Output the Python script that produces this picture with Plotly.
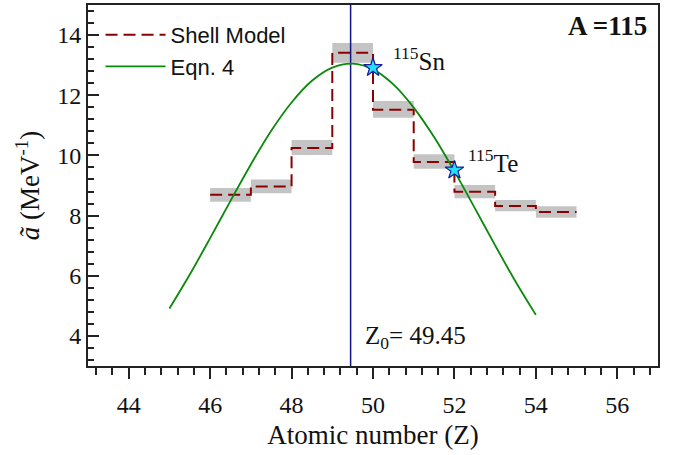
import plotly.graph_objects as go

# Shell model step values (level density parameter per Z bin)
shell_z = [46, 47, 48, 49, 50, 51, 52, 53, 54, 55]
shell_val = [8.69, 8.97, 10.25, 13.41, 11.52, 9.78, 8.79, 8.32, 8.12, 8.12]
# Grey uncertainty bands (center, half-width) per bin [Z, Z+1]
band_z = [46.5, 47.5, 48.5, 49.5, 50.5, 51.5, 52.5, 53.5, 54.5]
band_center = [8.69, 8.97, 10.26, 13.41, 11.53, 9.80, 8.80, 8.33, 8.12]
band_half = [0.23, 0.23, 0.25, 0.33, 0.28, 0.24, 0.22, 0.19, 0.19]

# Eqn. 4 curve
eq_z = [45, 45.5, 46, 46.5, 47, 47.5, 48, 48.5, 49, 49.5, 50, 50.5, 51,
        51.5, 52, 52.5, 53, 53.5, 54]
eq_val = [4.91, 6.04, 7.25, 8.49, 9.70, 10.82, 11.76, 12.48, 12.92, 13.05,
          12.86, 12.36, 11.59, 10.61, 9.47, 8.25, 7.01, 5.81, 4.70]

# Highlighted nuclei
star_z = [50, 52]
star_val = [12.92, 9.51]
star_labels = ["<sup>115</sup>Sn", "<sup>115</sup>Te"]

z0 = 49.45
y_range = [3, 15]
x_range = [43, 57]

fig = go.Figure()

fig.add_trace(go.Bar(
    x=band_z,
    y=[2 * h for h in band_half],
    base=[c - h for c, h in zip(band_center, band_half)],
    width=1.0,
    marker=dict(color="#c4c4c4", line=dict(width=0)),
    showlegend=False,
    hoverinfo="skip",
))

fig.add_trace(go.Scatter(
    x=[z0, z0], y=y_range, mode="lines",
    line=dict(color="#14148a", width=1.5),
    showlegend=False, hoverinfo="skip",
))

fig.add_trace(go.Scatter(
    x=shell_z, y=shell_val, mode="lines", name="Shell Model",
    line=dict(color="#8b0000", width=2, dash="12px,6px", shape="hv"),
))

fig.add_trace(go.Scatter(
    x=eq_z, y=eq_val, mode="lines", name="Eqn. 4",
    line=dict(color="#0a8a0a", width=1.8, shape="spline"),
))

fig.add_trace(go.Scatter(
    x=star_z, y=star_val, mode="markers",
    marker=dict(symbol="star", size=14, color="#22e0f5",
                line=dict(color="#1a1a9c", width=1.2)),
    showlegend=False,
))

serif = "Liberation Serif, Times New Roman, serif"

annotations = [
    dict(x=star_z[0], y=star_val[0], text=star_labels[0], xref="x", yref="y",
         showarrow=False, xanchor="left", yanchor="bottom", xshift=18, yshift=-9,
         font=dict(family=serif, size=25, color="#111")),
    dict(x=star_z[1], y=star_val[1], text=star_labels[1], xref="x", yref="y",
         showarrow=False, xanchor="left", yanchor="bottom", xshift=12, yshift=-9,
         font=dict(family=serif, size=25, color="#111")),
    dict(x=z0, y=3.35, text="Z<sub>0</sub>= 49.45", xref="x", yref="y",
         showarrow=False, xanchor="left", yanchor="bottom", xshift=12,
         font=dict(family=serif, size=25, color="#111")),
    dict(x=0.985, y=0.99, text="<b>A =115</b>", xref="paper", yref="paper",
         showarrow=False, xanchor="right", yanchor="top",
         font=dict(family=serif, size=27, color="#111")),
]

fig.update_layout(
    width=678, height=455,
    margin=dict(l=88, r=20, t=3, b=89),
    paper_bgcolor="white", plot_bgcolor="white",
    barmode="overlay",
    annotations=annotations,
    legend=dict(x=0.022, y=0.975, xanchor="left", yanchor="top",
                bgcolor="rgba(0,0,0,0)",
                font=dict(family="Liberation Sans, Arial, sans-serif", size=22, color="#111"),
                itemwidth=60, tracegroupgap=0),
    xaxis=dict(
        range=x_range, dtick=2, tick0=0, ticks="outside", ticklen=11, tickwidth=1.5,
        tickcolor="#222", showline=True, linecolor="#222", linewidth=1.8, mirror=True,
        showgrid=False, zeroline=False, ticklabelstandoff=5,
        tickfont=dict(family=serif, size=24, color="#111"),
        minor=dict(dtick=0.4, ticks="outside", ticklen=7, tickwidth=1.5, tickcolor="#222", showgrid=False),
        title=dict(text="Atomic number (Z)", font=dict(family=serif, size=27, color="#111"), standoff=8),
    ),
    yaxis=dict(
        range=y_range, dtick=2, tick0=0, ticks="inside", ticklen=11, tickwidth=1.5,
        tickcolor="#222", showline=True, linecolor="#222", linewidth=1.8, mirror=True,
        showgrid=False, zeroline=False,
        tickfont=dict(family=serif, size=24, color="#111"),
        minor=dict(dtick=0.4, ticks="inside", ticklen=6, tickwidth=1.5, tickcolor="#222", showgrid=False),
        title=dict(text="<i>ã</i> (MeV<sup>-1</sup>)", font=dict(family=serif, size=27, color="#111"), standoff=10),
    ),
)

fig.write_html("out.html")
